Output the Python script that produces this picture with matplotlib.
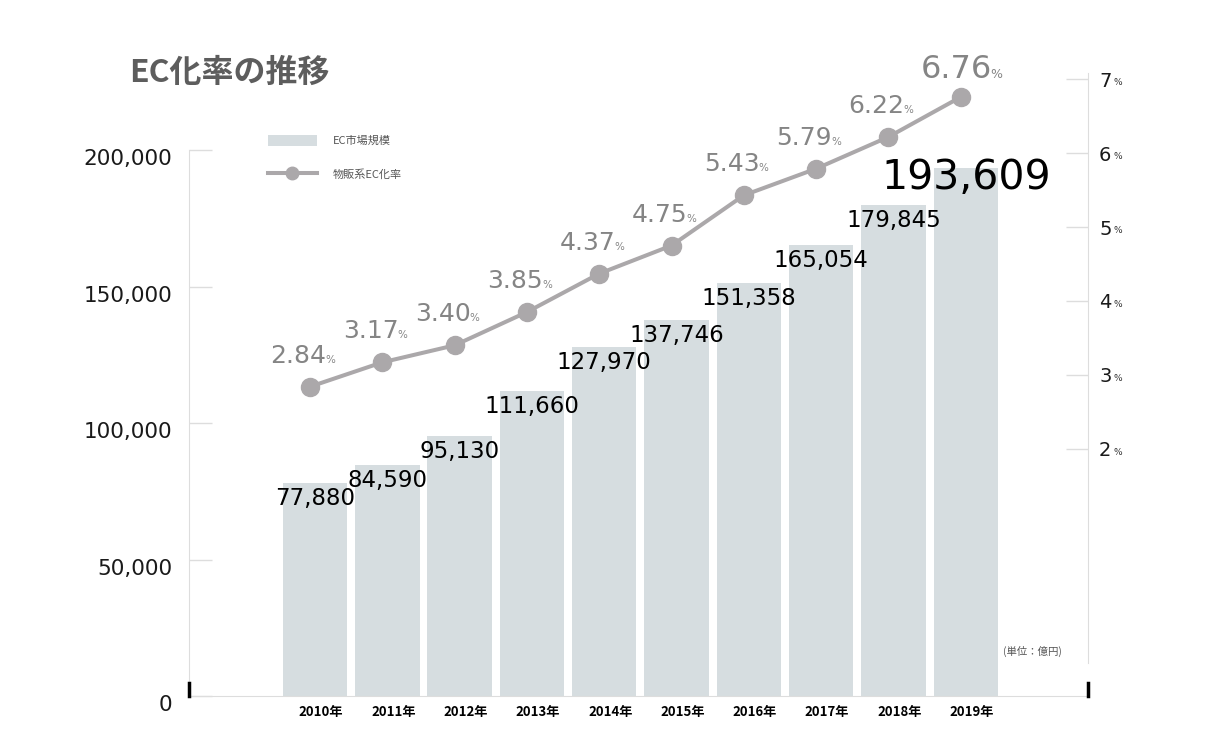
'''
EC market size (bars) and EC rate (line), 2010-2019
'''

import matplotlib.pyplot as plt
import matplotlib.transforms as mtransforms
from matplotlib.patches import Patch
from matplotlib.lines import Line2D

plt.rcParams['font.family'] = ['DejaVu Sans', 'Noto Sans CJK JP']
CJK = ['Noto Sans CJK JP', 'DejaVu Sans']

YEARS = ['2010年', '2011年', '2012年', '2013年', '2014年',
         '2015年', '2016年', '2017年', '2018年', '2019年']
MARKET = [77880, 84590, 95130, 111660, 127970,
          137746, 151358, 165054, 179845, 193609]
EC_RATE = [2.84, 3.17, 3.40, 3.85, 4.37, 4.75, 5.43, 5.79, 6.22, 6.76]
LEFT_TICKS = [0, 50000, 100000, 150000, 200000]
RIGHT_TICKS = [2, 3, 4, 5, 6, 7]

BAR_COLOR = '#d6dde0'
LINE_COLOR = '#aba8aa'
RATE_TEXT = '#858585'
GRID_COLOR = '#dddddd'

W, H = 1206, 732
fig = plt.figure(figsize=(W / 100, H / 100), dpi=100)
ax = fig.add_axes([189 / W, 36 / H, 899 / W, 636 / H])
ax2 = ax.twinx()

x = list(range(len(YEARS)))

# bars + value labels
ax.bar(x, MARKET, width=0.89, color=BAR_COLOR, zorder=2)
ax.set_xlim(-1.743, 10.69)
ax.set_ylim(0, 233000)
for i, v in enumerate(MARKET):
    last = i == len(MARKET) - 1
    ax.annotate(f'{v:,}', (i, v), xytext=(0, 10 if last else -4),
                textcoords='offset pixels', ha='center', va='top',
                fontsize=29.5 if last else 16.5, color='black', zorder=4)

# rate line + labels
x_line = [i - 0.07 for i in x]
ax2.plot(x_line, EC_RATE, color=LINE_COLOR, lw=2.9, marker='o', ms=13,
         zorder=3)
ax2.set_ylim(-1.345, 7.261)
for xi, r in zip(x_line, EC_RATE):
    big = r == EC_RATE[-1]
    rx = 31 if big else 16
    dy = 19 if big else 24
    ax2.annotate(f'{r:.2f}', (xi, r), xytext=(rx, dy),
                 textcoords='offset pixels', ha='right', va='baseline',
                 fontsize=23 if big else 18, color=RATE_TEXT)
    ax2.annotate('%', (xi, r), xytext=(rx - 1, dy),
                 textcoords='offset pixels', ha='left', va='baseline',
                 fontsize=9 if big else 7.5, color=RATE_TEXT)

# left axis
ax.set_yticks(LEFT_TICKS, labels=[f'{t:,}' for t in LEFT_TICKS])
ax.tick_params(axis='y', direction='in', length=16.5, width=1,
               color=GRID_COLOR, pad=12, labelsize=15.5,
               labelcolor='#1a1a1a')
down = mtransforms.ScaledTranslation(0, -7 / 100, fig.dpi_scale_trans)
for lab in ax.get_yticklabels():
    lab.set_transform(lab.get_transform() + down)

# x axis
ax.set_xticks(x, labels=YEARS)
ax.tick_params(axis='x', length=0, pad=6.5)
right = mtransforms.ScaledTranslation(6 / 100, 0, fig.dpi_scale_trans)
for lab in ax.get_xticklabels():
    lab.set_fontfamily(CJK)
    lab.set_fontweight('bold')
    lab.set_fontsize(9.5)
    lab.set_transform(lab.get_transform() + right)

# right axis
ax2.set_yticks(RIGHT_TICKS, labels=[str(t) for t in RIGHT_TICKS])
ax2.tick_params(axis='y', direction='in', length=16, width=1,
                color=GRID_COLOR, pad=8, labelsize=14, labelcolor='#1a1a1a')
for t in RIGHT_TICKS:
    ax2.annotate('%', (1, t), xycoords=('axes fraction', 'data'),
                 xytext=(25, -6), textcoords='offset pixels',
                 ha='left', va='baseline', fontsize=6.5, color='#333333')

for s in ['top', 'right']:
    ax.spines[s].set_visible(False)
for s in ['top', 'left', 'bottom']:
    ax2.spines[s].set_visible(False)
ax.spines['left'].set_color(GRID_COLOR)
ax.spines['left'].set_bounds(0, 200000)
ax.spines['bottom'].set_color(GRID_COLOR)
ax2.spines['right'].set_color(GRID_COLOR)
ax2.spines['right'].set_bounds(-0.9, 7.08)

# black end marks on the baseline
for xe in ax.get_xlim():
    ax.axvline(xe, 0, 0.02, color='black', lw=2.5, zorder=5, clip_on=False)

# legend
handles = [Patch(facecolor=BAR_COLOR, label='EC市場規模'),
           Line2D([], [], color=LINE_COLOR, lw=2.9, marker='o', ms=9,
                  label='物販系EC化率')]
leg = fig.legend(handles=handles, loc='upper left',
                 bbox_to_anchor=(268 / W, 1 - 135 / H), frameon=False,
                 prop={'family': CJK, 'size': 8}, handlelength=4.4,
                 handleheight=1.1, handletextpad=1.4, labelspacing=2.0,
                 borderpad=0, borderaxespad=0)
for t in leg.get_texts():
    t.set_color('#555555')

# title and unit
fig.text(129 / W, 1 - 73 / H, 'EC化率の推移', fontsize=23, fontweight='bold',
         color='#5d5d5d', va='center', family=CJK)
ax.text(0.971, 0.0708, '(単位：億円)', transform=ax.transAxes, ha='right',
        va='center', fontsize=7.5, color='#555555', family=CJK)

fig.savefig('out.png', dpi=100)
